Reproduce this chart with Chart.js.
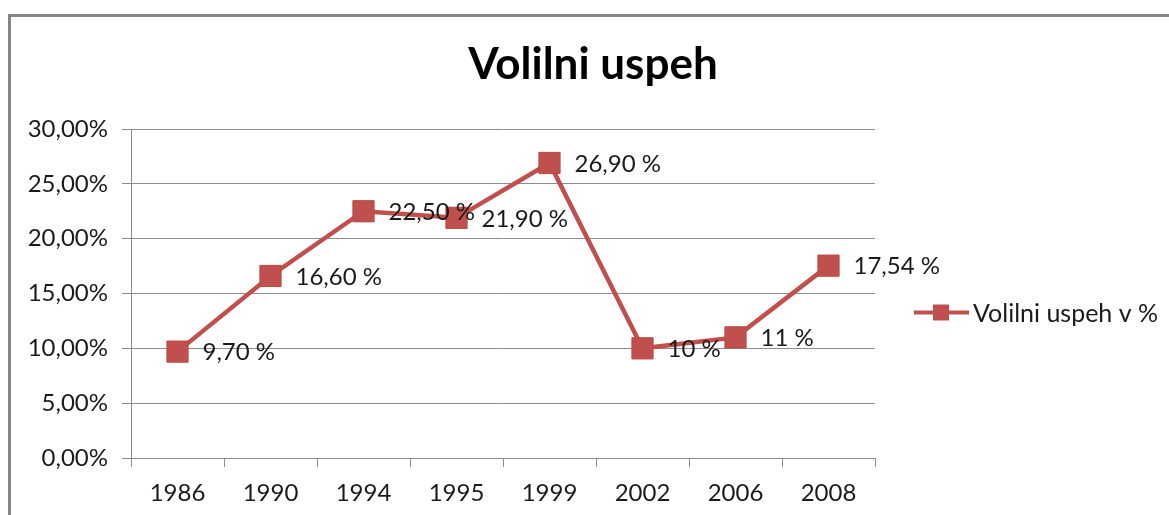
<!DOCTYPE html>
<html>
<head>
<meta charset="utf-8">
<script src="https://cdn.jsdelivr.net/npm/chart.js@4/dist/chart.umd.min.js"></script>
<style>
  html, body { margin: 0; padding: 0; background: #fff; }
  #wrap { position: relative; width: 1169px; height: 515px; }
</style>
</head>
<body>
<div id="wrap"><canvas id="c" width="1169" height="515"></canvas></div>
<script>
const chartTitle = 'Volilni uspeh';
const seriesName = 'Volilni uspeh v %';
const years = ['1986', '1990', '1994', '1995', '1999', '2002', '2006', '2008'];
const values = [9.7, 16.6, 22.5, 21.9, 26.9, 10, 11, 17.54];
const valueLabels = ['9,70 %', '16,60 %', '22,50 %', '21,90 %', '26,90 %', '10 %', '11 %', '17,54 %'];
const yTickLabels = ['0,00%', '5,00%', '10,00%', '15,00%', '20,00%', '25,00%', '30,00%'];

const RED = '#C0504D';
const FONT = 'Lato, "Open Sans", sans-serif';
const TEXT = '#1a1a1a';
const GRID = '#8c8c8c';

const framePlugin = {
  id: 'frame',
  beforeDraw(chart) {
    const ctx = chart.ctx;
    ctx.save();
    ctx.strokeStyle = '#868686';
    ctx.lineWidth = 3;
    ctx.beginPath();
    ctx.moveTo(9.5, 515);
    ctx.lineTo(9.5, 15.5);
    ctx.lineTo(1169, 15.5);
    ctx.stroke();
    ctx.restore();
  }
};

const titlePlugin = {
  id: 'excelTitle',
  afterDraw(chart) {
    const ctx = chart.ctx;
    ctx.save();
    ctx.font = 'bold 44px ' + FONT;
    ctx.fillStyle = '#000';
    ctx.textAlign = 'center';
    ctx.textBaseline = 'alphabetic';
    ctx.fillText(chartTitle, 593, 79);
    ctx.restore();
  }
};

const labelPlugin = {
  id: 'valueLabels',
  afterDatasetsDraw(chart) {
    const ctx = chart.ctx;
    const meta = chart.getDatasetMeta(0);
    ctx.save();
    ctx.font = '24px ' + FONT;
    ctx.fillStyle = TEXT;
    ctx.textAlign = 'left';
    ctx.textBaseline = 'middle';
    meta.data.forEach((pt, i) => {
      ctx.fillText(valueLabels[i], pt.x + 25, pt.y + 1);
    });
    ctx.restore();
  }
};

const legendPlugin = {
  id: 'excelLegend',
  afterDraw(chart) {
    const ctx = chart.ctx;
    const y = 312.5;
    ctx.save();
    ctx.strokeStyle = RED;
    ctx.lineWidth = 4;
    ctx.beginPath();
    ctx.moveTo(914, y);
    ctx.lineTo(969, y);
    ctx.stroke();
    ctx.fillStyle = RED;
    ctx.fillRect(933, y - 8, 16, 16);
    ctx.font = '25px ' + FONT;
    ctx.fillStyle = TEXT;
    ctx.textAlign = 'left';
    ctx.textBaseline = 'middle';
    ctx.fillText(seriesName, 973, y + 1);
    ctx.restore();
  }
};

new Chart(document.getElementById('c'), {
  type: 'line',
  data: {
    labels: years,
    datasets: [{
      label: seriesName,
      data: values,
      borderColor: RED,
      backgroundColor: RED,
      borderWidth: 4.5,
      pointStyle: 'rect',
      pointRadius: 15,
      pointBorderWidth: 1,
      pointBorderColor: '#B84A47',
      pointBackgroundColor: RED,
      tension: 0,
      fill: false
    }]
  },
  options: {
    responsive: false,
    animation: false,
    devicePixelRatio: 1,
    layout: { padding: { left: 0, top: 129, right: 294, bottom: 0 } },
    plugins: {
      legend: { display: false },
      title: { display: false },
      tooltip: { enabled: false }
    },
    scales: {
      x: {
        type: 'category',
        offset: true,
        grid: {
          offset: true,
          drawOnChartArea: false,
          drawTicks: true,
          tickLength: 9,
          color: GRID
        },
        border: { color: GRID, width: 1 },
        ticks: {
          font: { family: FONT, size: 24 },
          color: TEXT,
          padding: 12,
          maxRotation: 0,
          autoSkip: false
        },
        afterFit(scale) { scale.height = 57; }
      },
      y: {
        min: 0,
        max: 30,
        grid: {
          color: GRID,
          drawTicks: true,
          tickLength: 9,
          lineWidth: 1
        },
        border: { color: GRID, width: 1 },
        ticks: {
          stepSize: 5,
          font: { family: FONT, size: 24 },
          color: TEXT,
          padding: 14,
          callback: (v, i) => yTickLabels[i]
        },
        afterFit(scale) { scale.width = 131; }
      }
    }
  },
  plugins: [framePlugin, titlePlugin, labelPlugin, legendPlugin]
});
</script>
</body>
</html>
